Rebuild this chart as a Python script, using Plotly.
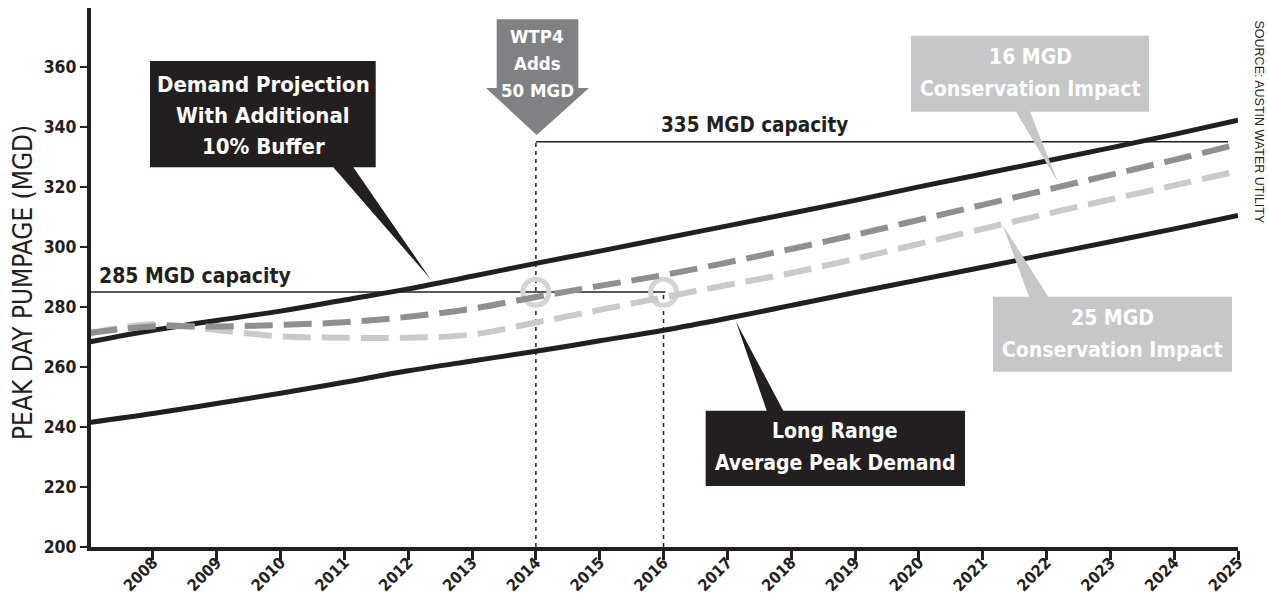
import plotly.graph_objects as go

# ---------------- data ----------------
years = list(range(2007, 2026))
demand_buffer = [268.3, 272.2, 275.5, 278.6, 282.3, 286.0, 290.2, 294.5, 298.6, 302.8,
                 307.0, 311.2, 315.5, 320.0, 324.3, 328.6, 333.0, 337.5, 342.2]
long_range = [241.5, 244.5, 247.8, 251.2, 254.9, 258.7, 262.0, 265.2, 268.7, 272.2,
              276.2, 280.5, 284.8, 289.0, 293.2, 297.5, 301.7, 306.0, 310.5]
cons_16 = [271.3, 273.5, 273.5, 274.0, 274.9, 276.7, 279.4, 283.3, 287.0, 290.6,
           294.8, 299.3, 304.0, 309.0, 314.0, 319.0, 324.0, 329.0, 334.2]
cons_25 = [271.2, 274.2, 272.3, 270.2, 269.7, 269.7, 270.8, 274.8, 279.0, 283.2,
           287.3, 291.3, 296.0, 301.0, 306.0, 311.0, 315.8, 320.5, 325.3]
tick_years = list(range(2008, 2026))
y_ticks = [200, 220, 240, 260, 280, 300, 320, 340, 360]

cap_old = 285          # MGD capacity before WTP4
cap_new = 335          # MGD capacity after WTP4
wtp4_year = 2014
cap_old_end_year = 2016
circle_years = [2014, 2016]
circle_vals = [284.9, 284.9]

# ---------------- layout constants ----------------
W, H = 1268, 597
ML, MR, MT, MB = 91, 30, 8, 50
X0, X1 = 2007.03, 2025.0
Y0, Y1 = 200.0, 379.6
PW = W - ML - MR
PH = H - MT - MB

def X(sx):
    return X0 + (sx - ML) / PW * (X1 - X0)

def Y(sy):
    return Y0 + (MT + PH - sy) / PH * (Y1 - Y0)

def PX(sx):
    return (sx - ML) / PW

def PY(sy):
    return (MT + PH - sy) / PH

BLACK = "#231f20"
DARK_DASH = "#8e8f92"
LIGHT_DASH = "#c9cacc"
BOX_GRAY = "#c6c7c9"
ARROW_GRAY = "#808184"
RING = "#d3d4d6"
COND = '"DejaVu Sans Condensed", "Liberation Sans Narrow", sans-serif'

fig = go.Figure()

fig.add_trace(go.Scatter(x=circle_years, y=circle_vals, mode="markers",
                         marker=dict(symbol="circle-open", size=26, color=RING,
                                     line=dict(width=5, color=RING)),
                         hoverinfo="skip"))
fig.add_trace(go.Scatter(x=years, y=long_range, mode="lines", line_shape="spline",
                         line=dict(color=BLACK, width=5)))
fig.add_trace(go.Scatter(x=years, y=demand_buffer, mode="lines", line_shape="spline",
                         line=dict(color=BLACK, width=5)))
fig.add_trace(go.Scatter(x=years, y=cons_25, mode="lines", line_shape="spline",
                         line=dict(color=LIGHT_DASH, width=6, dash="28px,11px")))
fig.add_trace(go.Scatter(x=years, y=cons_16, mode="lines", line_shape="spline",
                         line=dict(color=DARK_DASH, width=6, dash="28px,11px")))

shapes = []
# capacity lines
shapes.append(dict(type="line", xref="x", yref="y", x0=X0, x1=cap_old_end_year + 0.03,
                   y0=cap_old, y1=cap_old, line=dict(color=BLACK, width=1.5), layer="below"))
shapes.append(dict(type="line", xref="x", yref="y", x0=wtp4_year, x1=X(1228),
                   y0=cap_new, y1=cap_new, line=dict(color=BLACK, width=1.5), layer="below"))
# vertical dotted lines
shapes.append(dict(type="line", xref="x", yref="y", x0=wtp4_year, x1=wtp4_year,
                   y0=Y0, y1=cap_new, line=dict(color=BLACK, width=1.5, dash="4px,4px"), layer="below"))
shapes.append(dict(type="line", xref="x", yref="y", x0=cap_old_end_year, x1=cap_old_end_year,
                   y0=Y0, y1=cap_old, line=dict(color=BLACK, width=1.5, dash="4px,4px"), layer="below"))

def poly(points, color):
    d = "M " + " L ".join(f"{X(px):.4f},{Y(py):.4f}" for px, py in points) + " Z"
    return dict(type="path", xref="x", yref="y", path=d, fillcolor=color,
                line=dict(width=0), layer="above")

# Demand projection callout
shapes.append(poly([(150, 61), (375.7, 61), (375.7, 167.3), (353.3, 167.3), (430.7, 279.3),
                    (333.3, 167.3), (150, 167.3)], BLACK))
# 16 MGD callout
shapes.append(poly([(911, 35.7), (1149, 35.7), (1149, 111.7), (1030, 111.7), (1058.3, 182.7),
                    (1016, 111.7), (911, 111.7)], BOX_GRAY))
# 25 MGD callout
shapes.append(poly([(993, 296.7), (1029, 296.7), (1002.7, 225), (1048.3, 296.7), (1232, 296.7),
                    (1232, 371.7), (993, 371.7)], BOX_GRAY))
# Long range callout
shapes.append(poly([(705.7, 410.7), (766.7, 410.7), (736, 321.7), (783.3, 410.7), (965, 410.7),
                    (965, 486), (705.7, 486)], BLACK))
# WTP4 arrow
shapes.append(poly([(496.7, 19.3), (578.3, 19.3), (578.3, 88), (589, 88), (536.7, 135),
                    (486, 88), (496.7, 88)], ARROW_GRAY))

annotations = []

def txt(text, px, py, size, color="white", family=COND, bold=True, xanchor="center"):
    t = f"<b>{text}</b>" if bold else text
    annotations.append(dict(text=t, xref="x", yref="y", x=X(px), y=Y(py), showarrow=False,
                            xanchor=xanchor, yanchor="middle", borderpad=0,
                            font=dict(family=family, size=size, color=color)))

for s, yy in [("Demand Projection", 84), ("With Additional", 115), ("10% Buffer", 146)]:
    txt(s, 263, yy, 22)
for s, yy in [("WTP4", 36), ("Adds", 63), ("50 MGD", 90)]:
    txt(s, 537, yy, 18.5)
txt("16 MGD", 1030, 57, 21)
txt("Conservation Impact", 1030, 89, 21)
txt("25 MGD", 1112, 318, 21)
txt("Conservation Impact", 1112, 350, 21)
txt("Long Range", 835, 431, 21)
txt("Average Peak Demand", 835, 463, 21)
txt(f"{cap_old} MGD capacity", 98, 276, 21, color=BLACK, xanchor="left")
txt(f"{cap_new} MGD capacity", 660, 125, 20.5, color=BLACK, xanchor="left")

annotations.append(dict(text="PEAK DAY PUMPAGE (MGD)", xref="paper", yref="paper",
                        x=PX(23), y=PY(283), textangle=-90,
                        showarrow=False, xanchor="center", yanchor="middle",
                        font=dict(family=COND, size=26, color=BLACK)))
annotations.append(dict(text="SOURCE: AUSTIN WATER UTILITY", xref="paper", yref="paper",
                        x=PX(1258), y=PY(121.5), textangle=90,
                        showarrow=False, xanchor="center", yanchor="middle", borderpad=0,
                        font=dict(family="Liberation Sans, Arial, sans-serif", size=12.5, color=BLACK)))

fig.update_layout(
    width=W, height=H,
    margin=dict(l=ML, r=MR, t=MT, b=MB, pad=0, autoexpand=False),
    paper_bgcolor="white", plot_bgcolor="white",
    showlegend=False,
    shapes=shapes, annotations=annotations,
    xaxis=dict(range=[X0, X1], tickvals=tick_years, ticktext=[str(y) for y in tick_years],
               tickangle=-45, ticks="outside", ticklen=9, tickwidth=2.5, tickcolor=BLACK,
               showline=True, linewidth=4, linecolor=BLACK, showgrid=False, zeroline=False,
               automargin=False, ticklabelstandoff=-13,
               tickfont=dict(family=COND, size=16, color=BLACK, weight="bold")),
    yaxis=dict(range=[Y0, Y1], tickvals=y_ticks, ticks="outside", ticklen=7, tickwidth=2,
               tickcolor=BLACK, showline=True, linewidth=4, linecolor=BLACK,
               showgrid=False, zeroline=False, automargin=False,
               tickfont=dict(family=COND, size=17.5, color=BLACK, weight="bold")),
)

# remove the default page margin so the 1268x597 figure fills the window exactly
fig.write_html("out.html", config={"displayModeBar": False},
               post_script="document.body.style.margin='0px';"
                           "document.documentElement.style.overflow='hidden';")
